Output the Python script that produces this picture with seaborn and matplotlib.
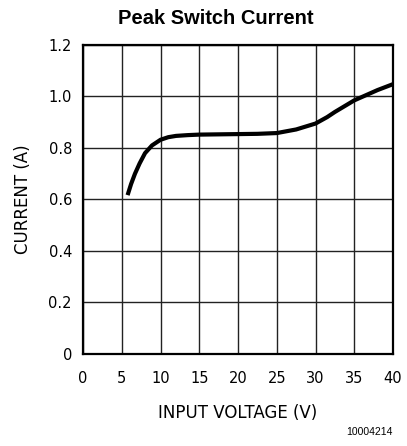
import matplotlib
matplotlib.use("Agg")
import matplotlib.pyplot as plt
from matplotlib import font_manager
import seaborn as sns
import pandas as pd

sns.set_theme(style="white")

# Prefer a condensed face for the axis text when one is installed
installed = {f.name for f in font_manager.fontManager.ttflist}
axis_font = "DejaVu Sans Condensed" if "DejaVu Sans Condensed" in installed else "DejaVu Sans"
plt.rcParams["font.family"] = [axis_font, "DejaVu Sans"]
plt.rcParams["text.color"] = "black"

# Peak switch current vs. input voltage
input_voltage = [5.75, 6.2, 6.7, 7.3, 8.0, 8.9, 10.0, 11.0, 12.0, 13.5, 15.0,
                 17.5, 20.0, 22.5, 25.0, 27.5, 30.0, 31.5, 32.5, 33.5, 35.0,
                 36.5, 38.0, 40.0]
peak_current = [0.617, 0.66, 0.70, 0.74, 0.78, 0.81, 0.832, 0.842, 0.847, 0.850,
                0.852, 0.853, 0.854, 0.855, 0.858, 0.872, 0.895, 0.92, 0.94,
                0.958, 0.985, 1.005, 1.025, 1.048]

x_ticks = [0, 5, 10, 15, 20, 25, 30, 35, 40]
y_ticks = [0, 0.2, 0.4, 0.6, 0.8, 1.0, 1.2]
y_tick_labels = ["0", "0.2", "0.4", "0.6", "0.8", "1.0", "1.2"]

df = pd.DataFrame({"voltage": input_voltage, "current": peak_current})

fig = plt.figure(figsize=(4.07, 4.46), dpi=100)
ax = fig.add_axes([0.204, 0.2063, 0.7617, 0.6928])

sns.lineplot(data=df, x="voltage", y="current", ax=ax, color="black",
             linewidth=3.0, solid_capstyle="butt", solid_joinstyle="round",
             zorder=3)

ax.set_xlim(0, 40)
ax.set_ylim(0, 1.2)
ax.set_xticks(x_ticks)
ax.set_yticks(y_ticks)
ax.set_yticklabels(y_tick_labels)
ax.grid(True, color="#222222", linewidth=1.0)
ax.tick_params(axis="both", length=0, labelsize=10.5, colors="black")
ax.tick_params(axis="x", pad=12)
ax.tick_params(axis="y", pad=8)
for s in ax.spines.values():
    s.set_color("black")
    s.set_linewidth(1.6)

ax.set_xlabel("INPUT VOLTAGE (V)", fontsize=12, labelpad=13, color="black")
ax.set_ylabel("CURRENT (A)", fontsize=12, labelpad=12, color="black")

fig.text(0.531, 0.958, "Peak Switch Current", ha="center", va="center",
         fontsize=14.5, fontweight="bold", color="black",
         family=["Liberation Sans", "DejaVu Sans"])
fig.text(0.965, 0.032, "10004214", ha="right", va="center", fontsize=7.5,
         color="black", family=["Liberation Sans", "DejaVu Sans"])

fig.savefig("out.png", dpi=100)
